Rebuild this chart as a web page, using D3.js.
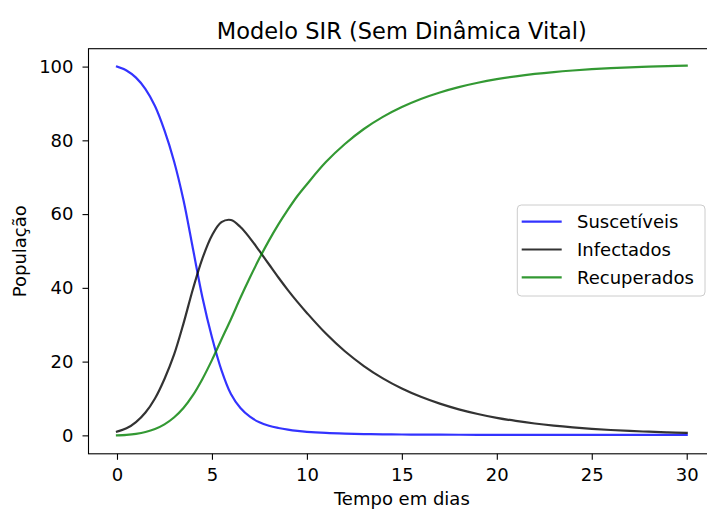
<!DOCTYPE html>
<html><head><meta charset="utf-8">
<script src="https://cdn.jsdelivr.net/npm/d3@7"></script>
<style>
body{margin:0;background:#fff}
svg{display:block}
text{font-family:"DejaVu Sans",sans-serif;fill:#000}
</style>
</head><body>
<svg id="chart" width="707" height="509"></svg>
<script>
// ---- data ----
const days = [0,0.5,1,1.5,2,2.5,3,3.5,4,4.5,5,5.5,6,6.5,7,7.5,8,8.5,9,9.5,10,
              11,12,13,14,15,16,17,18,19,20,21,22,23,24,25,26,27,28,29,30];
const suscetiveis = [100,98.96,97.0,93.9,89.3,82.7,74.4,63.8,50.6,37.4,26.6,17.7,11.2,7.4,5.05,3.53,2.6,2.0,1.55,1.21,0.96,
              0.65,0.47,0.36,0.28,0.235,0.2,0.18,0.163,0.15,0.14,0.135,0.13,0.128,0.125,0.123,0.122,0.121,0.12,0.12,0.12];
const infectados = [1,1.9,3.6,6.2,10.0,15.3,21.8,30.3,39.7,48.0,54.2,57.8,58.4,56.5,53.5,50.0,46.4,42.8,39.4,36.2,33.2,
              27.6,22.8,18.8,15.45,12.7,10.45,8.6,7.05,5.8,4.76,3.91,3.21,2.64,2.17,1.78,1.46,1.2,0.99,0.81,0.67];
const recuperados = [0,0.14,0.42,0.91,1.72,2.98,4.84,7.42,10.9,15.3,20.4,26.0,31.5,37.3,42.8,48.0,52.8,57.2,61.2,64.9,68.1,
              74.1,79.0,83.07,86.36,89.03,91.22,92.99,94.44,95.62,96.58,97.36,98.0,98.52,98.94,99.29,99.57,99.8,99.98,100.13,100.26];
const seriesNames = ["Suscetíveis","Infectados","Recuperados"];
const xTickValues = [0,5,10,15,20,25,30];
const yTickValues = [0,20,40,60,80,100];
const titleText = "Modelo SIR (Sem Dinâmica Vital)";
const xLabelText = "Tempo em dias";
const yLabelText = "População";

// ---- styles / layout ----
const colors = ["#0000ff","#000000","#008000"];
const lineAlpha = 0.8;
const plot = {left:88.5, right:715.2, top:48.7, bottom:453.8};
const fs = 18;

const svg = d3.select("#chart");
const x = d3.scaleLinear().domain([-1.5,31.5]).range([plot.left, plot.right]);
const y = d3.scaleLinear().domain([-5,104.85]).range([plot.bottom, plot.top]);

svg.append("defs").append("clipPath").attr("id","clip")
  .append("rect").attr("x",plot.left).attr("y",plot.top)
  .attr("width",plot.right-plot.left).attr("height",plot.bottom-plot.top);

// curves
const allSeries = [suscetiveis, infectados, recuperados];
const line = d3.line().x((d,i)=>x(days[i])).y(d=>y(d)).curve(d3.curveCatmullRom.alpha(0.5));
const g = svg.append("g").attr("clip-path","url(#clip)");
allSeries.forEach((s,k)=>{
  g.append("path").datum(s).attr("d",line)
   .attr("fill","none").attr("stroke",colors[k]).attr("stroke-opacity",lineAlpha)
   .attr("stroke-width",2.2).attr("stroke-linejoin","round").attr("stroke-linecap","square");
});

// frame
svg.append("rect").attr("x",plot.left).attr("y",plot.top)
  .attr("width",plot.right-plot.left).attr("height",plot.bottom-plot.top)
  .attr("fill","none").attr("stroke","#000").attr("stroke-width",1.1);

// axes
const xAxis = svg.append("g").attr("transform",`translate(0,${plot.bottom})`)
  .call(d3.axisBottom(x).tickValues(xTickValues).tickSize(6).tickPadding(8).tickFormat(d3.format("d")));
const yAxis = svg.append("g").attr("transform",`translate(${plot.left},0)`)
  .call(d3.axisLeft(y).tickValues(yTickValues).tickSize(6).tickPadding(9).tickFormat(d3.format("d")));
[xAxis,yAxis].forEach(a=>{
  a.select(".domain").remove();
  a.selectAll(".tick line").attr("stroke","#000").attr("stroke-width",1.1);
  a.selectAll(".tick text").attr("font-size",fs).attr("font-family","DejaVu Sans").attr("fill","#000");
});

// title & labels
svg.append("text").attr("x",(plot.left+plot.right)/2).attr("y",39)
  .attr("text-anchor","middle").attr("font-size",22.5).text(titleText);
svg.append("text").attr("x",(plot.left+plot.right)/2).attr("y",505)
  .attr("text-anchor","middle").attr("font-size",fs).text(xLabelText);
svg.append("text").attr("transform",`translate(26,${(plot.top+plot.bottom)/2}) rotate(-90)`)
  .attr("text-anchor","middle").attr("font-size",fs).text(yLabelText);

// legend
const lg = svg.append("g");
lg.append("rect").attr("x",517.3).attr("y",205).attr("width",187.7).attr("height",91)
  .attr("rx",4).attr("fill","#fff").attr("fill-opacity",0.8).attr("stroke","#cccccc").attr("stroke-width",1);
seriesNames.forEach((name,k)=>{
  const ly = 221.7 + k*27.8;
  lg.append("line").attr("x1",521.7).attr("x2",561.7).attr("y1",ly).attr("y2",ly)
    .attr("stroke",colors[k]).attr("stroke-opacity",lineAlpha).attr("stroke-width",2.2);
  lg.append("text").attr("x",577).attr("y",ly+6.5).attr("font-size",fs).text(name);
});
</script>
</body></html>
